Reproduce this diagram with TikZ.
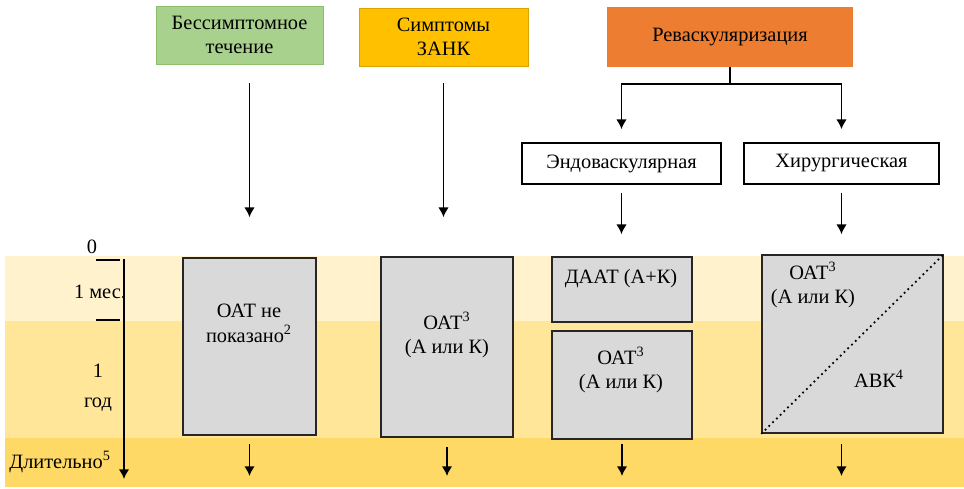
\documentclass[tikz,border=0pt]{standalone}
\usepackage{fontspec}
\setmainfont{Liberation Serif}
\usetikzlibrary{positioning, arrows.meta}

\definecolor{zelen}{HTML}{A9D18E}
\definecolor{zelenkr}{HTML}{8CBF6B}
\definecolor{zholt}{HTML}{FFC000}
\definecolor{zholtkr}{HTML}{D9A300}
\definecolor{oranzh}{HTML}{ED7D31}
\definecolor{polosa1}{HTML}{FFF2CC}
\definecolor{polosa2}{HTML}{FFE699}
\definecolor{polosa3}{HTML}{FFD966}
\definecolor{seryj}{HTML}{D9D9D9}

\tikzset{
  verh/.style={align=center, inner sep=0pt, font=\fontsize{11.6}{14}\selectfont},
  belyj/.style={draw=black, line width=1pt, fill=white, inner sep=0pt,
    font=\fontsize{11.6}{14}\selectfont},
  sery/.style={draw=black!85, line width=1pt, fill=seryj, inner sep=0pt},
  tekst/.style={align=center, inner sep=0pt, font=\fontsize{11.6}{14}\selectfont},
  strelka/.style={-{Latex[length=5.5pt, width=6pt]}, line width=1pt},
}

\begin{document}
\begin{tikzpicture}[x=0.02cm, y=-0.02cm]
    \useasboundingbox (0,0) rectangle (964,488);

    % Полосы времени
    \fill[polosa1] (5,256) rectangle (964,321);
    \fill[polosa2] (5,321) rectangle (964,438);
    \fill[polosa3] (5,438) rectangle (964,487);

    % Верхние блоки
    \node[verh, draw=zelenkr, fill=zelen, minimum width=3.34cm, minimum height=1.16cm]
        (bessimpt) at (239.5,35) {Бессимптомное\\течение};
    \node[verh, draw=zholtkr, fill=zholt, minimum width=3.38cm, minimum height=1.16cm]
        (simpt) at (443.5,37) {Симптомы\\ЗАНК};
    \node[verh, fill=oranzh, minimum width=4.92cm, minimum height=1.2cm]
        (revask) at (730,37) {Реваскуляризация};

    % Виды реваскуляризации
    \node[belyj, minimum width=3.98cm, minimum height=0.82cm] (endo) at (621.5,163.5) {Эндоваскулярная};
    \node[belyj, minimum width=3.9cm, minimum height=0.82cm] (hirurg) at (841.5,163.5) {Хирургическая};

    % Серые блоки
    \node[sery, minimum width=2.66cm, minimum height=3.54cm] (oat1) at (249.5,346.5) {};
    \node[sery, minimum width=2.64cm, minimum height=3.6cm] (oat2) at (447,347) {};
    \node[sery, minimum width=2.8cm, minimum height=1.3cm] (daat) at (622,289.5) {};
    \node[sery, minimum width=2.8cm, minimum height=2.16cm] (oat4) at (622,385) {};
    \node[sery, minimum width=3.62cm, minimum height=3.56cm] (avk) at (852.5,344) {};
    \draw[dotted, line width=1pt] (avk.south west) -- (avk.north east);

    % Тексты в блоках
    \node[tekst] (t1) at (249,323.5) {ОАТ не\\показано\textsuperscript{2}};
    \node[tekst] (t2) at (447,335) {ОАТ\textsuperscript{3}\\(А или К)};
    \node[tekst] (t3) at (621,279) {ДААТ (А+К)};
    \node[tekst] (t4) at (621,370) {ОАТ\textsuperscript{3}\\(А или К)};
    \node[tekst] (t5) at (813,285) {ОАТ\textsuperscript{3}\\(А или К)};
    \node[tekst] (t6) at (879,379) {АВК\textsuperscript{4}};

    % Стрелки сверху
    \draw[strelka, shorten <=0.38cm, shorten >=0.8cm] (bessimpt.south -| oat1.north) -- (oat1.north);
    \draw[strelka, shorten <=0.34cm, shorten >=0.78cm] (simpt.south) -- (simpt.south |- oat2.north);
    \draw[line width=1pt] (revask.south) -- ++(0,17) coordinate (razv);
    \draw[strelka] (razv) -| ([yshift=0.26cm]endo.north);
    \draw[strelka] (razv) -| ([yshift=0.26cm]hirurg.north);
    \draw[strelka, shorten <=0.16cm, shorten >=0.44cm] (endo.south) -- (endo.south |- daat.north);
    \draw[strelka, shorten <=0.16cm, shorten >=0.4cm] (hirurg.south) -- (hirurg.south |- avk.north);

    % Стрелки снизу
    \coordinate (niz) at (0,476);
    \draw[strelka, shorten <=0.16cm] (oat1.south) -- (oat1.south |- niz);
    \draw[strelka, shorten <=0.18cm] (oat2.south) -- (oat2.south |- niz);
    \draw[strelka, shorten <=0.08cm] (oat4.south) -- (oat4.south |- niz);
    \draw[strelka, shorten <=0.2cm] (avk.south -| hirurg.south) -- (hirurg.south |- niz);

    % Шкала времени
    \coordinate (nol) at (124,259);
    \draw[strelka] (nol) -- (124,479);
    \draw[line width=0.8pt] (96,260) -- (120,260);
    \draw[line width=0.8pt] (96,320) -- (120,320);
    \node[tekst] (n0) at (92,247) {0};
    \node[tekst] (mes) at (100,292) {1 мес.};
    \node[tekst] (god) at (98,388) {1\\[3pt]год};
    \node[tekst, anchor=west] (dlit) at (9,462) {Длительно\textsuperscript{5}};
\end{tikzpicture}
\end{document}
